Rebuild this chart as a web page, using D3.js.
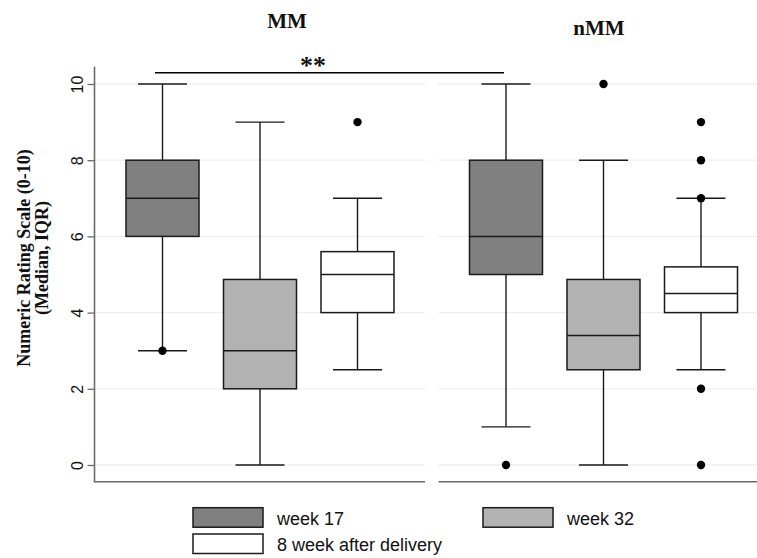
<!DOCTYPE html>
<html>
<head>
<meta charset="utf-8">
<script src="https://cdn.jsdelivr.net/npm/d3@7"></script>
<style>
  html, body { margin: 0; padding: 0; background: #fff; }
  svg { display: block; }
</style>
</head>
<body>
<script>
// Groups (panels), series and y ticks
const groups = ["MM", "nMM"];
const series = ["week 17", "week 32", "8 week after delivery"];
const seriesFill = ["#808080", "#b2b2b2", "#ffffff"];
const yTicks = [0, 2, 4, 6, 8, 10];

// Box statistics per group, one entry per series: [low whisker, Q1, median, Q3, high whisker]
const statsMM  = [[3, 6, 7, 8, 10], [0, 2, 3, 4.87, 9], [2.5, 4, 5, 5.6, 7]];
const statsNMM = [[1, 5, 6, 8, 10], [0, 2.5, 3.4, 4.87, 8], [2.5, 4, 4.5, 5.2, 7]];
// Outside values per group and series
const outMM  = [[3], [], [9]];
const outNMM = [[0], [10], [9, 8, 7, 2, 0]];
// Significance bracket between the two week-17 boxes
const sigLabel = "**";

const W = 757, H = 558;
const svg = d3.select("body").append("svg").attr("width", W).attr("height", H);

const y = d3.scaleLinear().domain([0, 10]).range([465, 84]);
const panel = d3.scaleBand().domain(groups).range([95, 768.5]).paddingInner(0.0393).paddingOuter(0);
const pw = panel.bandwidth();
const inner = d3.scalePoint().domain(series).range([67.5, pw - 67.5]);
const boxW = 73, capW = 49;

const table = groups.map((g, gi) => ({
  group: g,
  boxes: series.map((s, si) => {
    const st = gi === 0 ? statsMM[si] : statsNMM[si];
    const out = gi === 0 ? outMM[si] : outNMM[si];
    return { series: s, fill: seriesFill[si], lo: st[0], q1: st[1], med: st[2], q3: st[3], hi: st[4], out };
  })
}));

// Panels
const P = svg.selectAll("g.panel").data(table).join("g")
  .attr("class", "panel")
  .attr("transform", d => `translate(${panel(d.group)},0)`);

// Grid lines
P.selectAll("line.grid").data(yTicks).join("line")
  .attr("x1", 0).attr("x2", pw)
  .attr("y1", d => y(d)).attr("y2", d => y(d))
  .attr("stroke", "#ebf1f2").attr("stroke-width", 1.3);

// Bottom axis line
P.append("line")
  .attr("x1", 0).attr("x2", pw).attr("y1", 481.7).attr("y2", 481.7)
  .attr("stroke", "#6b6b6b").attr("stroke-width", 1.6);

const B = P.selectAll("g.box").data(d => d.boxes).join("g")
  .attr("class", "box")
  .attr("transform", d => `translate(${inner(d.series)},0)`);

const stroke = "#1a1a1a";
// Whiskers
B.append("line").attr("x1", 0).attr("x2", 0).attr("y1", d => y(d.hi)).attr("y2", d => y(d.q3))
  .attr("stroke", stroke).attr("stroke-width", 1.4);
B.append("line").attr("x1", 0).attr("x2", 0).attr("y1", d => y(d.q1)).attr("y2", d => y(d.lo))
  .attr("stroke", stroke).attr("stroke-width", 1.4);
B.append("line").attr("x1", -capW / 2).attr("x2", capW / 2).attr("y1", d => y(d.hi)).attr("y2", d => y(d.hi))
  .attr("stroke", stroke).attr("stroke-width", 1.4);
B.append("line").attr("x1", -capW / 2).attr("x2", capW / 2).attr("y1", d => y(d.lo)).attr("y2", d => y(d.lo))
  .attr("stroke", stroke).attr("stroke-width", 1.4);
// Boxes
B.append("rect")
  .attr("x", -boxW / 2).attr("width", boxW)
  .attr("y", d => y(d.q3)).attr("height", d => y(d.q1) - y(d.q3))
  .attr("fill", d => d.fill).attr("stroke", stroke).attr("stroke-width", 1.5);
B.append("line").attr("x1", -boxW / 2).attr("x2", boxW / 2).attr("y1", d => y(d.med)).attr("y2", d => y(d.med))
  .attr("stroke", stroke).attr("stroke-width", 1.5);
// Outside values
B.selectAll("circle").data(d => d.out).join("circle")
  .attr("cx", 0).attr("cy", d => y(d)).attr("r", 4.2).attr("fill", "#000");

// Y axis
const yAxis = d3.axisLeft(y).tickValues(yTicks).tickSize(7).tickFormat(d3.format("d"));
const gy = svg.append("g").attr("transform", "translate(94.5,0)").call(yAxis);
gy.select(".domain").remove();
gy.selectAll(".tick line").attr("stroke", "#6b6b6b").attr("stroke-width", 1.3);
gy.selectAll(".tick text")
  .attr("x", null).attr("dy", null)
  .attr("transform", "translate(-11.5,0) rotate(-90)")
  .attr("text-anchor", "middle")
  .attr("fill", "#111")
  .style("font-family", "'Liberation Sans', Arial, sans-serif")
  .style("font-size", "16px");
svg.append("line").attr("x1", 94.5).attr("x2", 94.5).attr("y1", 66.7).attr("y2", 482.5)
  .attr("stroke", "#6b6b6b").attr("stroke-width", 1.6);

// Y axis title
const yt = svg.append("text")
  .attr("transform", "translate(0,258) rotate(-90)")
  .attr("text-anchor", "middle")
  .style("font-family", "'Liberation Serif', 'Times New Roman', serif")
  .style("font-weight", "bold").style("font-size", "18px").attr("fill", "#111");
yt.append("tspan").attr("x", 0).attr("y", 30).text("Numeric Rating Scale (0-10)");
yt.append("tspan").attr("x", 0).attr("y", 48).text("(Median, IQR)");

// Panel titles
const titleY = { "MM": 28, "nMM": 35 };
const titleX = { "MM": 287, "nMM": 599 };
svg.selectAll("text.ptitle").data(groups).join("text")
  .attr("class", "ptitle")
  .attr("x", d => titleX[d]).attr("y", d => titleY[d])
  .attr("text-anchor", "middle")
  .style("font-family", "'Liberation Serif', 'Times New Roman', serif")
  .style("font-weight", "bold").style("font-size", "21px").attr("fill", "#111")
  .text(d => d);

// Significance bracket
const x17a = panel("MM") + inner("week 17");
const x17b = panel("nMM") + inner("week 17");
svg.append("line").attr("x1", x17a - 7.5).attr("x2", x17b - 2).attr("y1", 72.7).attr("y2", 72.7)
  .attr("stroke", "#000").attr("stroke-width", 1.5);
svg.append("text").attr("x", 313).attr("y", 74).attr("text-anchor", "middle")
  .style("font-family", "'Liberation Serif', 'Times New Roman', serif")
  .style("font-weight", "bold").style("font-size", "26px").attr("fill", "#111")
  .text(sigLabel);

// Legend
const legendPos = [{ x: 193, y: 507.7 }, { x: 483, y: 507.7 }, { x: 193, y: 534 }];
const L = svg.selectAll("g.leg").data(series).join("g")
  .attr("class", "leg")
  .attr("transform", (d, i) => `translate(${legendPos[i].x},${legendPos[i].y})`);
L.append("rect").attr("width", 70).attr("height", 19.5)
  .attr("fill", (d, i) => seriesFill[i]).attr("stroke", stroke).attr("stroke-width", 1.5);
L.append("text").attr("x", 84).attr("y", 17)
  .style("font-family", "'Liberation Sans', Arial, sans-serif")
  .style("font-size", "18px").attr("fill", "#111")
  .text(d => d);
</script>
</body>
</html>
